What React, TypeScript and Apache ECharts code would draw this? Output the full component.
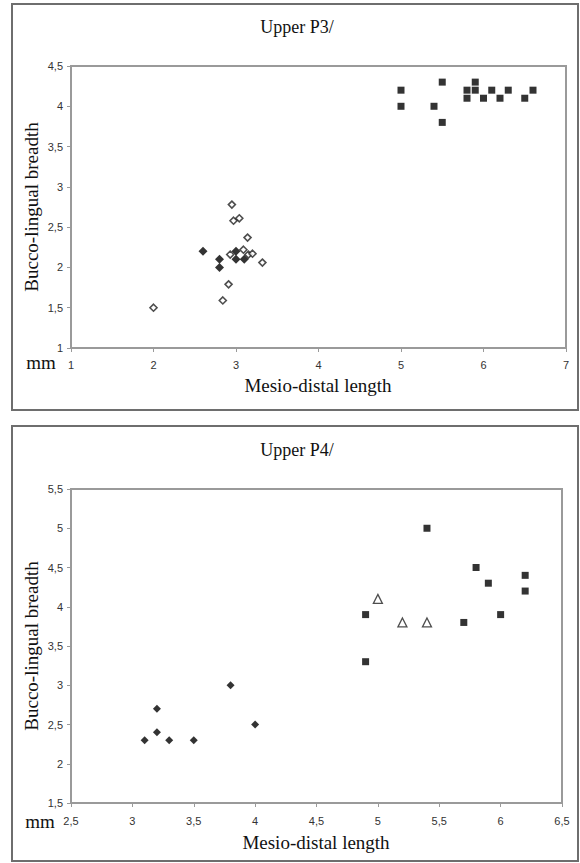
import React, { useEffect, useRef } from "react";
import * as echarts from "echarts";

// ---- Upper P3/ ----
const p3Squares: number[][] = [
  [5.0, 4.2], [5.0, 4.0], [5.4, 4.0], [5.5, 4.3], [5.5, 3.8],
  [5.8, 4.2], [5.8, 4.1], [5.9, 4.3], [5.9, 4.2], [6.0, 4.1],
  [6.1, 4.2], [6.2, 4.1], [6.3, 4.2], [6.5, 4.1], [6.6, 4.2],
];
const p3FilledDiamonds: number[][] = [
  [2.6, 2.2], [2.8, 2.1], [2.8, 2.0], [3.0, 2.2], [3.0, 2.1], [3.1, 2.1],
];
const p3OpenDiamonds: number[][] = [
  [2.0, 1.5], [2.84, 1.59], [2.91, 1.79], [2.93, 2.16], [2.95, 2.78],
  [2.97, 2.58], [3.04, 2.61], [3.09, 2.22], [3.14, 2.37], [3.15, 2.16],
  [3.2, 2.17], [3.32, 2.06],
];

// ---- Upper P4/ ----
const p4Squares: number[][] = [
  [4.9, 3.9], [4.9, 3.3], [5.4, 5.0], [5.7, 3.8], [5.8, 4.5],
  [5.9, 4.3], [6.0, 3.9], [6.2, 4.4], [6.2, 4.2],
];
const p4Diamonds: number[][] = [
  [3.1, 2.3], [3.2, 2.7], [3.2, 2.4], [3.3, 2.3], [3.5, 2.3], [3.8, 3.0], [4.0, 2.5],
];
const p4Triangles: number[][] = [
  [5.0, 4.1], [5.2, 3.8], [5.4, 3.8],
];

const titles = ["Upper P3/", "Upper P4/"];
const xName = "Mesio-distal length";
const yName = "Bucco-lingual breadth";
const unit = "mm";

const SERIF = "'Liberation Serif', 'Times New Roman', serif";
const SANS = "'Liberation Sans', Arial, sans-serif";

const fmt = (v: number) => String(v).replace(".", ",");

function axisCommon(margin: number) {
  return {
    axisLine: { show: true, onZero: false, lineStyle: { color: "#9a9a9a", width: 2 } },
    axisTick: { show: true, inside: false, length: 4, lineStyle: { color: "#9a9a9a", width: 1 } },
    splitLine: { show: false },
    axisLabel: {
      color: "#333",
      fontFamily: SANS,
      fontSize: 11,
      margin,
      formatter: fmt,
    },
  };
}

export default function App() {
  const ref = useRef<HTMLDivElement>(null);
  useEffect(() => {
    if (!ref.current) return;
    const chart = echarts.init(ref.current, undefined, { renderer: "svg" });
    const gridBorder = { show: true, borderColor: "#9a9a9a", borderWidth: 2, backgroundColor: "transparent" };
    const serifText = (text: string, x: number, y: number, size: number, rotation = 0) => ({
      type: "text", x, y, rotation,
      style: { text, font: `${size}px ${SERIF}`, fill: "#111", textAlign: "center", textVerticalAlign: "middle" },
    });
    chart.setOption({
      animation: false,
      backgroundColor: "#fff",
      grid: [
        { left: 71, top: 66, width: 495, height: 282, ...gridBorder },
        { left: 71, top: 489, width: 491, height: 314, ...gridBorder },
      ],
      xAxis: [
        { type: "value", gridIndex: 0, min: 1, max: 7, interval: 1, ...axisCommon(11) },
        { type: "value", gridIndex: 1, min: 2.5, max: 6.5, interval: 0.5, ...axisCommon(12) },
      ],
      yAxis: [
        { type: "value", gridIndex: 0, min: 1, max: 4.5, interval: 0.5, ...axisCommon(8) },
        { type: "value", gridIndex: 1, min: 1.5, max: 5.5, interval: 0.5, ...axisCommon(8) },
      ],
      series: [
        { type: "scatter", xAxisIndex: 0, yAxisIndex: 0, data: p3Squares, symbol: "rect", symbolSize: 7,
          itemStyle: { color: "#000" } },
        { type: "scatter", xAxisIndex: 0, yAxisIndex: 0, data: p3FilledDiamonds, symbol: "diamond", symbolSize: 9,
          itemStyle: { color: "#000" } },
        { type: "scatter", xAxisIndex: 0, yAxisIndex: 0, data: p3OpenDiamonds, symbol: "diamond", symbolSize: 7,
          itemStyle: { color: "#fff", borderColor: "#222", borderWidth: 1.6 } },
        { type: "scatter", xAxisIndex: 1, yAxisIndex: 1, data: p4Squares, symbol: "rect", symbolSize: 7,
          itemStyle: { color: "#000" } },
        { type: "scatter", xAxisIndex: 1, yAxisIndex: 1, data: p4Diamonds, symbol: "diamond", symbolSize: 8,
          itemStyle: { color: "#000" } },
        { type: "scatter", xAxisIndex: 1, yAxisIndex: 1, data: p4Triangles, symbol: "triangle", symbolSize: 9,
          itemStyle: { color: "#fff", borderColor: "#222", borderWidth: 1.3 } },
      ],
      graphic: [
        { type: "rect", z: -1, shape: { x: 12, y: 4, width: 566, height: 406 },
          style: { fill: "none", stroke: "#6e6e6e", lineWidth: 2 } },
        { type: "rect", z: -1, shape: { x: 12, y: 426, width: 566, height: 435 },
          style: { fill: "none", stroke: "#6e6e6e", lineWidth: 2 } },
        serifText(titles[0], 297, 27, 18),
        serifText(titles[1], 297, 450, 18),
        serifText(xName, 318, 385, 19),
        serifText(xName, 316, 842, 19),
        serifText(yName, 31, 207, 19, Math.PI / 2),
        serifText(yName, 31, 646, 19, Math.PI / 2),
        serifText(unit, 41, 362, 19),
        serifText(unit, 40, 821, 19),
      ],
    });
    return () => chart.dispose();
  }, []);
  return (
    <div
      ref={ref}
      style={{ position: "absolute", left: 0, top: 0, width: 580, height: 863 }}
    />
  );
}
